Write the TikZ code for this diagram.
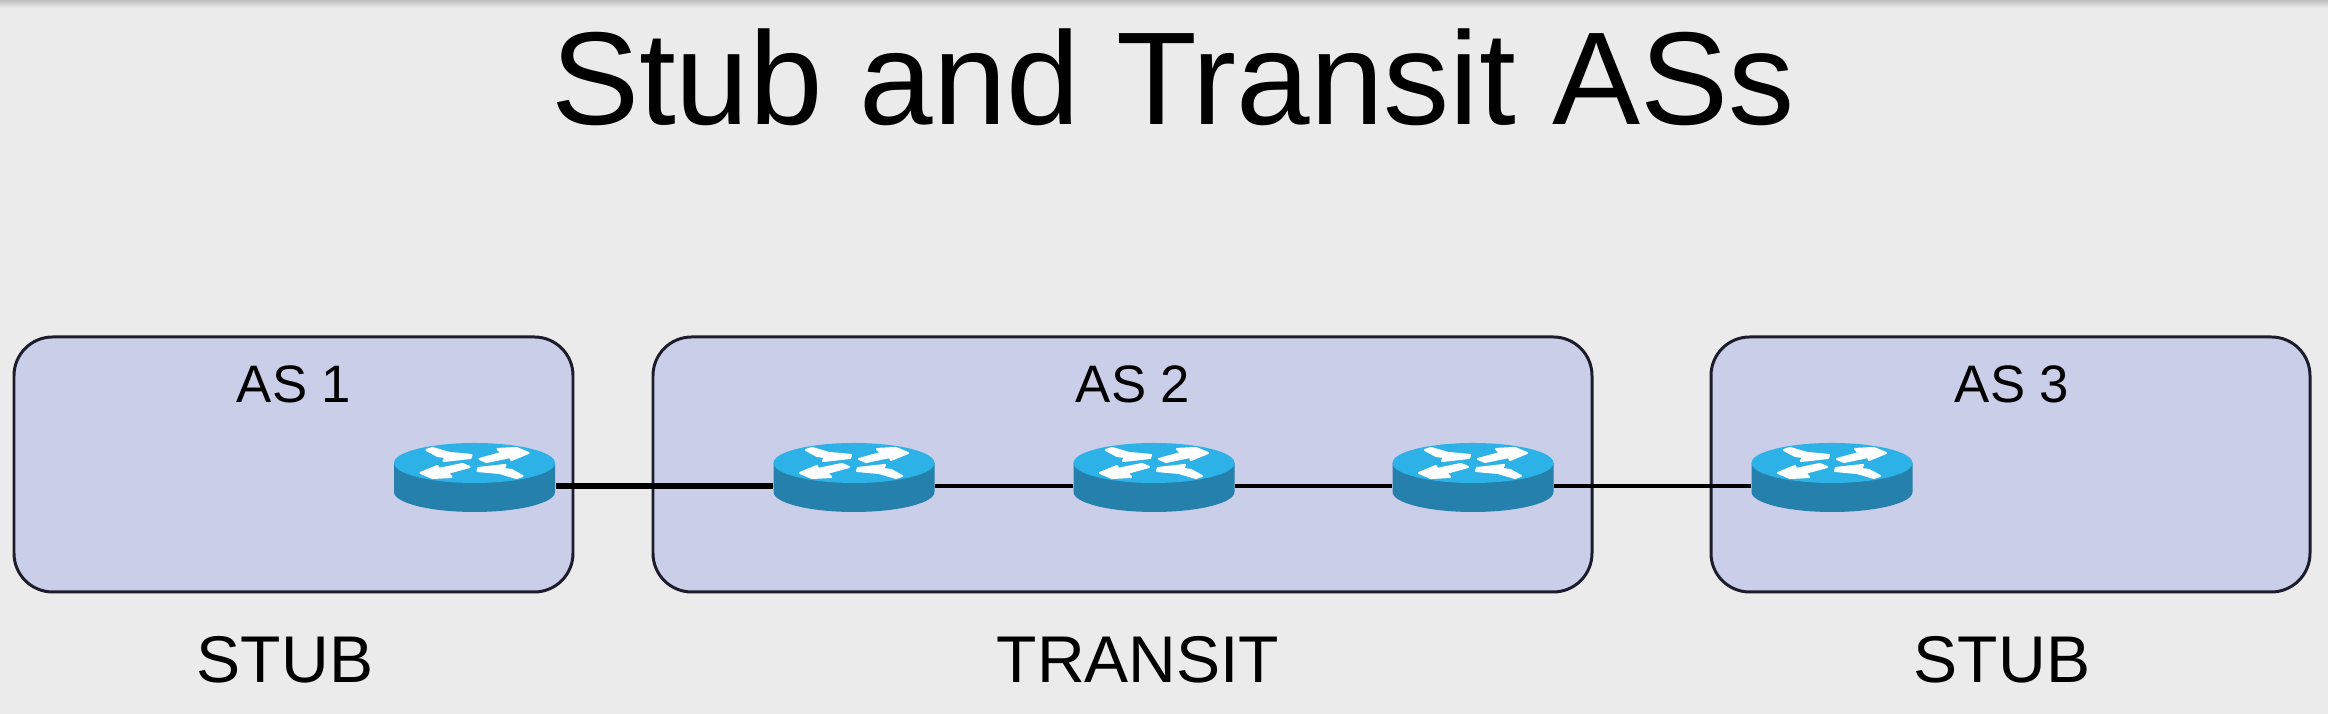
\documentclass[tikz,border=0pt]{standalone}
\usepackage{fontspec}
\setmainfont{Liberation Sans}
\definecolor{slidegray}{HTML}{EBEBEB}
\definecolor{boxblue}{HTML}{CBCEE9}
\definecolor{boxline}{HTML}{1C1C2C}
\definecolor{routertop}{HTML}{2CB2E6}
\definecolor{routerside}{HTML}{2580AC}

\begin{document}
\begin{tikzpicture}
    \tikzstyle{as box}=[draw=boxline,fill=boxblue,line width=.85pt,rounded corners=11pt,inner sep=0,minimum height=2.55cm]
    \tikzstyle{router node}=[inner sep=0,minimum width=1.61cm,minimum height=.86cm]
    \tikzstyle{router arrow}=[draw=white,fill=white,line width=.6pt,line join=round]
    \tikzstyle{title text}=[anchor=base,inner sep=0,font=\fontsize{37.6}{40}\selectfont]
    \tikzstyle{as text}=[anchor=base,inner sep=0,font=\fontsize{15}{17}\selectfont]
    \tikzstyle{role text}=[anchor=base,inner sep=0,font=\fontsize{18.8}{21}\selectfont]
    \tikzstyle{thin link}=[draw=black,line width=1.1pt]
    \tikzstyle{thick link}=[draw=black,line width=1.85pt]

\useasboundingbox (0,0) rectangle (23.28,7.14);
% slide
\fill[slidegray] (0,0) rectangle (23.28,7.14);
\shade[top color=black!25,bottom color=slidegray] (0,7.06) rectangle (23.28,7.14);
\node(title)[title text] at (11.73,5.89) {Stub and Transit ASs};
% autonomous systems
\node(as1)[as box,minimum width=5.59cm] at (2.935,2.495) {};
\node(as2)[as box,minimum width=9.39cm] at (11.225,2.495) {};
\node(as3)[as box,minimum width=5.99cm] at (20.105,2.495) {};
\node(as1 label)[as text] at (2.94,3.11) {AS 1};
\node(as2 label)[as text] at (11.33,3.11) {AS 2};
\node(as3 label)[as text] at (20.12,3.11) {AS 3};
\node(stub1)[role text] at (2.85,.31) {STUB};
\node(transit)[role text] at (11.38,.31) {TRANSIT};
\node(stub3)[role text] at (20.02,.31) {STUB};
% routers
\foreach \name/\x in {r1/4.745,r2/8.54,r3/11.54,r4/14.73,r5/18.32}{
    \node(\name)[router node] at (\x,2.28) {};
    \begin{scope}[shift={(\x,2.51)}]
        \fill[routerside] (-.805,0) -- (-.805,-.29) arc[start angle=180,end angle=360,x radius=.805,y radius=.2] -- (.805,0) -- cycle;
        \fill[routertop] (0,0) ellipse[x radius=.805,y radius=.2];
        \foreach \s in {1,-1}{
            \begin{scope}[xscale=\s,yscale=\s,x=.01cm,y=.01cm]
                \path[router arrow] (-48,13) -- (-42,15) -- (-25,10) -- (-3,8) -- (-4,5) -- (-31,2) -- (-29,6) -- (-37,7) -- cycle;
                \path[router arrow] (5,4) -- (27,10) -- (23,14) -- (42,15) -- (54,10) -- (37,3) -- (36,6) -- (12,1) -- cycle;
            \end{scope}
        }
    \end{scope}
}
% links
\draw[thick link] (r1) -- (r2);
\draw[thin link] (r2) -- (r3);
\draw[thin link] (r3) -- (r4);
\draw[thin link] (r4) -- (r5);
\end{tikzpicture}
\end{document}
